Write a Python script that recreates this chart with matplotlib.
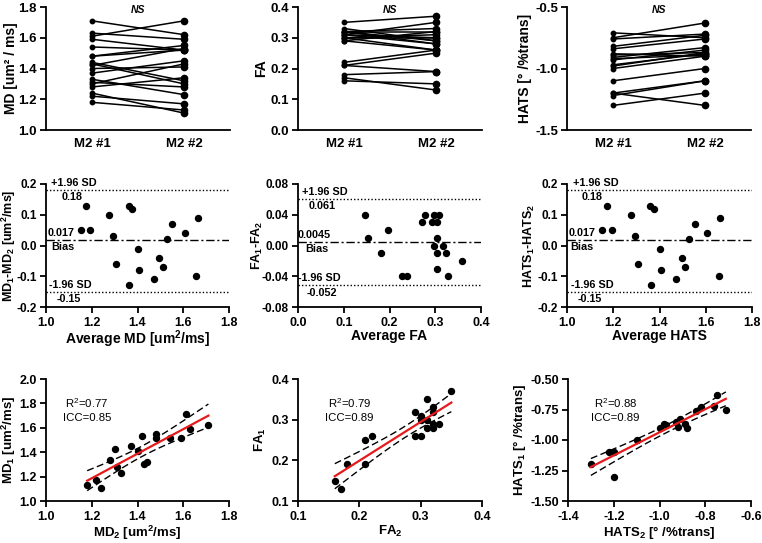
import numpy as np
import matplotlib
matplotlib.use("Agg")
import matplotlib.pyplot as plt

plt.rcParams['font.family'] = ['Liberation Sans', 'DejaVu Sans']
plt.rcParams['font.weight'] = 'bold'
plt.rcParams['axes.labelweight'] = 'bold'
plt.rcParams['mathtext.default'] = 'regular'
plt.rcParams['axes.unicode_minus'] = False

# ---------------- data ----------------
scan_labels = ["M2 #1", "M2 #2"]

md_scan1 = [1.18, 1.22, 1.24, 1.28, 1.30, 1.31, 1.33, 1.37, 1.40, 1.42,
            1.43, 1.44, 1.48, 1.48, 1.54, 1.59, 1.61, 1.63, 1.71]
md_scan2 = [1.13, 1.17, 1.11, 1.34, 1.43, 1.28, 1.23, 1.45, 1.41, 1.53,
            1.30, 1.32, 1.55, 1.52, 1.52, 1.52, 1.71, 1.59, 1.62]

fa_scan1 = [0.16, 0.17, 0.18, 0.21, 0.21, 0.22, 0.29, 0.29, 0.30, 0.30,
            0.30, 0.31, 0.31, 0.31, 0.32, 0.32, 0.32, 0.32, 0.33, 0.35]
fa_scan2 = [0.15, 0.13, 0.19, 0.25, 0.19, 0.26, 0.32, 0.26, 0.26, 0.31,
            0.30, 0.35, 0.30, 0.28, 0.33, 0.32, 0.29, 0.28, 0.29, 0.37]

hats_scan1 = [-1.30, -1.22, -1.20, -1.20, -1.10, -1.00, -0.98, -0.97, -0.93,
              -0.92, -0.91, -0.89, -0.88, -0.84, -0.82, -0.76, -0.75, -0.71]
hats_scan2 = [-1.20, -1.10, -1.10, -1.30, -1.00, -0.90, -0.87, -0.88, -0.85,
              -0.89, -0.83, -0.87, -0.90, -0.76, -0.73, -0.72, -0.63, -0.75]

# Bland-Altman points
md_ba_avg = [1.152, 1.174, 1.193, 1.277, 1.293, 1.307, 1.361, 1.362, 1.378, 1.401,
             1.407, 1.472, 1.496, 1.511, 1.527, 1.552, 1.606, 1.657, 1.663]
md_ba_diff = [0.05, 0.13, 0.05, 0.10, 0.03, -0.06, 0.13, -0.13, 0.12, -0.01,
              -0.08, -0.11, -0.04, -0.07, 0.02, 0.07, 0.04, -0.10, 0.09]
md_ba_stats = [0.18, 0.017, -0.15]      # +1.96 SD, bias, -1.96 SD
md_ba_labels = ["0.18", "0.017", "-0.15"]

fa_ba_avg = [0.147, 0.152, 0.182, 0.197, 0.227, 0.238, 0.272, 0.278, 0.293, 0.298,
             0.298, 0.303, 0.303, 0.303, 0.303, 0.309, 0.318, 0.323, 0.328, 0.359]
fa_ba_diff = [0.04, 0.01, -0.01, 0.02, -0.04, -0.04, 0.03, 0.04, 0.03, 0.04,
              0.00, 0.03, 0.01, -0.01, -0.03, 0.04, 0.00, -0.01, -0.04, -0.02]
fa_ba_stats = [0.061, 0.0045, -0.052]
fa_ba_labels = ["0.061", "0.0045", "-0.052"]

hats_ba_avg = [1.152, 1.174, 1.193, 1.277, 1.293, 1.307, 1.361, 1.362, 1.378, 1.401,
               1.407, 1.472, 1.496, 1.511, 1.527, 1.552, 1.606, 1.657, 1.663]
hats_ba_diff = [0.05, 0.13, 0.05, 0.10, 0.03, -0.06, 0.13, -0.13, 0.12, -0.01,
                -0.08, -0.11, -0.04, -0.07, 0.02, 0.07, 0.04, -0.10, 0.09]
hats_ba_stats = [0.18, 0.017, -0.15]
hats_ba_labels = ["0.18", "0.017", "-0.15"]

r2_labels = ["R$^2$=0.77", "R$^2$=0.79", "R$^2$=0.88"]
icc_labels = ["ICC=0.85", "ICC=0.89", "ICC=0.89"]

T_CRIT = {16: 2.120, 17: 2.110, 18: 2.101}

# ---------------- figure ----------------
W, H = 762, 543
fig = plt.figure(figsize=(W / 100, H / 100), dpi=100)


def rect(l, r, t, b):
    return [l / W, 1 - b / H, (r - l) / W, (b - t) / H]


def style(ax, xfs=9, yfs=9):
    for s in ['top', 'right']:
        ax.spines[s].set_visible(False)
    for s in ['left', 'bottom']:
        ax.spines[s].set_linewidth(1.3)
    ax.tick_params(width=1.3, length=4, direction='out')
    ax.tick_params(axis='x', labelsize=xfs)
    ax.tick_params(axis='y', labelsize=yfs, pad=2.5)
    for lab in ax.get_xticklabels() + ax.get_yticklabels():
        lab.set_fontweight('bold')


# ---------- Row 1: before-after ----------
row1 = [
    (46, 230, md_scan1, md_scan2, (1.0, 1.8), np.arange(1.0, 1.81, 0.2), "%.1f",
     "MD [um² / ms]", -0.153),
    (298, 482, fa_scan1, fa_scan2, (0.0, 0.4), np.arange(0.0, 0.41, 0.1), "%.1f", "FA",
     -0.165),
    (567, 751, hats_scan1, hats_scan2, (-1.5, -0.5), np.arange(-1.5, -0.49, 0.5), "%.1f",
     "HATS [° /%trans]", -0.19),
]
for l, r, a, b, ylim, yt, fmt, ylab, ylx in row1:
    ax = fig.add_axes(rect(l, r, 7, 130))
    for v1, v2 in zip(a, b):
        ax.plot([0, 1], [v1, v2], color='black', lw=1.1, zorder=2)
    ax.plot(np.zeros(len(a)), a, 'o', color='black', ms=3.2, zorder=3)
    ax.plot(np.ones(len(b)), b, 'o', color='black', ms=4.5, zorder=3)
    ax.set_xlim(-0.5, 1.5)
    ax.set_ylim(*ylim)
    ax.set_yticks(yt)
    ax.set_yticklabels([fmt % v for v in yt])
    ax.set_xticks([0, 1])
    ax.set_xticklabels(scan_labels)
    ax.set_ylabel(ylab, fontsize=10)
    ax.yaxis.set_label_coords(ylx, 0.5)
    style(ax, 9.5, 9.5)
    ax.tick_params(axis='x', length=0, pad=6)
    ax.text(0.5, 0.975, "NS", transform=ax.transAxes, ha='center', va='center',
            fontsize=7.5, style='italic', fontweight='bold')

# ---------- Row 2: Bland-Altman ----------
row2 = [
    (46, 229, md_ba_avg, md_ba_diff, md_ba_stats, md_ba_labels,
     (1.0, 1.8), np.arange(1.0, 1.81, 0.2), "%.1f",
     (-0.2, 0.2), np.arange(-0.2, 0.21, 0.1), "%.1f",
     "Average MD [um$^2$/ms]", "MD$_1$-MD$_2$ [um$^2$/ms]",
     [0.027, 0.087, 0.011, 0.027, 0.016, 0.06], -0.152),
    (298, 481, fa_ba_avg, fa_ba_diff, fa_ba_stats, fa_ba_labels,
     (0.0, 0.4), np.arange(0.0, 0.41, 0.1), "%.1f",
     (-0.08, 0.08), np.arange(-0.08, 0.081, 0.04), "%.2f",
     "Average FA", "FA$_1$-FA$_2$",
     [0.022, 0.06, 0.0, 0.04, 0.0, 0.045], -0.18),
    (567, 752, hats_ba_avg, hats_ba_diff, hats_ba_stats, hats_ba_labels,
     (1.0, 1.8), np.arange(1.0, 1.81, 0.2), "%.1f",
     (-0.2, 0.2), np.arange(-0.2, 0.21, 0.1), "%.1f",
     "Average HATS", "HATS$_1$-HATS$_2$",
     [0.033, 0.08, 0.01, 0.02, 0.02, 0.06], -0.16),
]
for (l, r, xs, ys, stats, labs, xlim, xt, xfmt, ylim, yt, yfmt, xlab, ylab, xo, ylx) in row2:
    ax = fig.add_axes(rect(l, r, 184, 307))
    ax.plot(xs, ys, 'o', color='black', ms=4.3, zorder=3)
    up, bias, lo = stats
    ax.axhline(up, color='black', lw=1.0, ls=(0, (1, 1.5)))
    ax.axhline(lo, color='black', lw=1.0, ls=(0, (1, 1.5)))
    ax.axhline(bias, color='black', lw=1.0, ls=(0, (6, 2, 1.5, 2)))
    tr = ax.get_yaxis_transform()
    kw = dict(xycoords=tr, textcoords='offset points', ha='left', fontsize=7.8,
              fontweight='bold')
    ax.annotate("+1.96 SD", xy=(xo[0], up), xytext=(0, 1.5), va='bottom', **kw)
    ax.annotate(labs[0], xy=(xo[1], up), xytext=(0, -1.5), va='top', **kw)
    ax.annotate(labs[1], xy=(xo[2], bias), xytext=(0, 1.5), va='bottom', **kw)
    ax.annotate("Bias", xy=(xo[3], bias), xytext=(0, -1.5), va='top', **kw)
    ax.annotate("-1.96 SD", xy=(xo[4], lo), xytext=(0, 1.5), va='bottom', **kw)
    ax.annotate(labs[2], xy=(xo[5], lo), xytext=(0, -1.5), va='top', **kw)
    ax.set_xlim(*xlim)
    ax.set_ylim(*ylim)
    ax.set_xticks(xt)
    ax.set_xticklabels([xfmt % v for v in xt])
    ax.set_yticks(yt)
    ax.set_yticklabels([yfmt % v for v in yt])
    ax.set_xlabel(xlab, fontsize=10)
    ax.xaxis.set_label_coords(0.5, -0.175)
    ax.set_ylabel(ylab, fontsize=9)
    ax.yaxis.set_label_coords(ylx, 0.5)
    style(ax, 9, 8.5)

# ---------- Row 3: correlation ----------
row3 = [
    (46, 229, md_scan1, md_scan2, (1.0, 1.8), np.arange(1.0, 1.81, 0.2), "%.1f",
     (1.0, 2.0), np.arange(1.0, 2.01, 0.2), "%.1f",
     "MD$_2$ [um$^2$/ms]", "MD$_1$ [um$^2$/ms]", 0.224, -0.155),
    (298, 482, fa_scan1, fa_scan2, (0.1, 0.4), np.arange(0.1, 0.41, 0.1), "%.1f",
     (0.1, 0.4), np.arange(0.1, 0.41, 0.1), "%.1f",
     "FA$_2$", "FA$_1$", 0.28, -0.165),
    (568, 751, hats_scan1, hats_scan2, (-1.4, -0.6), np.arange(-1.4, -0.59, 0.2), "%.1f",
     (-1.5, -0.5), np.arange(-1.5, -0.49, 0.25), "%.2f",
     "HATS$_2$ [° /%trans]", "HATS$_1$ [° /%trans]", 0.26, -0.22),
]
for i, (l, r, xs, ys, xlim, xt, xfmt, ylim, yt, yfmt, xlab, ylab, tx, ylx) in enumerate(row3):
    ax = fig.add_axes(rect(l, r, 379, 501))
    x = np.asarray(xs)
    y = np.asarray(ys)
    n = len(x)
    slope, icpt = np.polyfit(x, y, 1)
    resid = y - (slope * x + icpt)
    s = np.sqrt(np.sum(resid ** 2) / (n - 2))
    xx = np.linspace(x.min(), x.max(), 100)
    yy = slope * xx + icpt
    se = s * np.sqrt(1 / n + (xx - x.mean()) ** 2 / np.sum((x - x.mean()) ** 2))
    t = T_CRIT.get(n - 2, 2.1)
    ax.plot(xx, yy + t * se, color='black', lw=1.0, ls=(0, (5, 2.5)), zorder=2)
    ax.plot(xx, yy - t * se, color='black', lw=1.0, ls=(0, (5, 2.5)), zorder=2)
    ax.plot(x, y, 'o', color='black', ms=4.3, zorder=3)
    ax.plot(xx, yy, color='#e41a1c', lw=1.6, zorder=4)
    ax.text(tx, 0.80, r2_labels[i], transform=ax.transAxes, ha='center', va='center',
            fontsize=8.2, fontweight='normal')
    ax.text(tx, 0.68, icc_labels[i], transform=ax.transAxes, ha='center', va='center',
            fontsize=8.2, fontweight='normal')
    ax.set_xlim(*xlim)
    ax.set_ylim(*ylim)
    ax.set_xticks(xt)
    ax.set_xticklabels([xfmt % v for v in xt])
    ax.set_yticks(yt)
    ax.set_yticklabels([yfmt % v for v in yt])
    ax.set_xlabel(xlab, fontsize=9.5)
    ax.xaxis.set_label_coords(0.5, -0.185)
    ax.set_ylabel(ylab, fontsize=9.5)
    ax.yaxis.set_label_coords(ylx, 0.5)
    style(ax, 9, 9)

fig.savefig("out.png", dpi=100)
